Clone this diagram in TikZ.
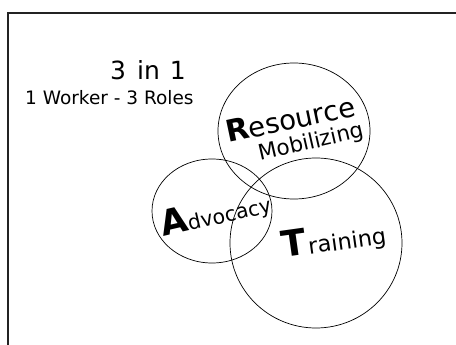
\documentclass[tikz,border=0pt]{standalone}
\usepackage{fontspec}
\setmainfont{DejaVu Sans}
\usepackage{tikz}
\definecolor{framegray}{RGB}{35,35,35}

\begin{document}
\begin{tikzpicture}[x=1pt,y=-1pt,
  ring/.style={line width=0.7pt},
  word/.style={anchor=base west, inner sep=0pt}]
\useasboundingbox (0,0) rectangle (456,345);
% Frame
\draw[line width=2pt, framegray] (7.5,350) -- (7.5,13) -- (460,13);
% Title
\node[anchor=base, inner sep=0pt] (title) at (148,80) {\fontsize{25}{25}\selectfont 3\hspace{0.45em}in\hspace{0.4em}1};
\node[word] (roles) at (25,105) {\fontsize{18.5}{18.5}\selectfont 1 Worker - 3 Roles};
% Circles
\draw[ring] (294,131) ellipse (76 and 68);
\draw[ring] (212,211) ellipse (60 and 52);
\draw[ring] (316,243) ellipse (86 and 85);
% Labels
\node[word, rotate=12] (resource) at (228,143) {{\fontsize{30}{30}\selectfont\bfseries R}{\fontsize{27.5}{27.5}\selectfont esource}};
\node[word, rotate=13] (mobil) at (260,161) {\fontsize{21.5}{21.5}\selectfont Mobilizing};
\node[word, rotate=13] (advocacy) at (163,237) {{\fontsize{35}{35}\selectfont\bfseries A}{\fontsize{20.5}{20.5}\selectfont dvocacy}};
\node[word, rotate=8] (training) at (283,258) {{\fontsize{36}{36}\selectfont\bfseries T}{\fontsize{22.5}{22.5}\selectfont\hspace{2pt}raining}};
\end{tikzpicture}
\end{document}
